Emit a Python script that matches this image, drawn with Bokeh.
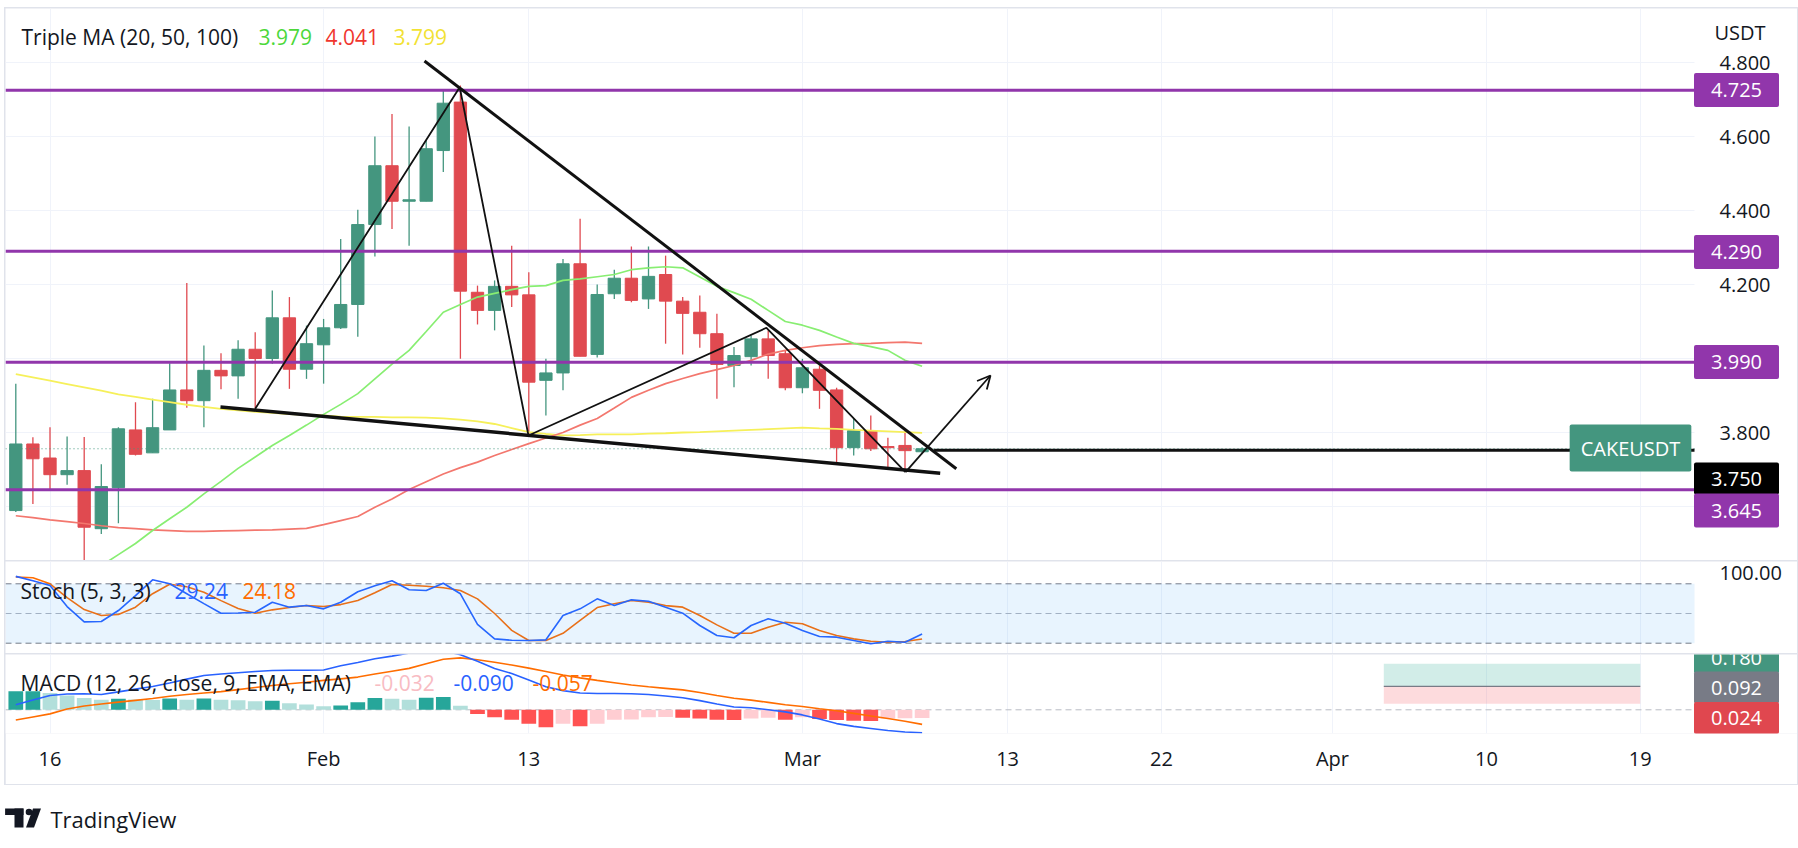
import numpy as np
import pandas as pd
from bokeh.plotting import figure
from bokeh.layouts import column, row
from bokeh.models import (Range1d, FixedTicker, BoxAnnotation, Label, Arrow,
                          OpenHead, ColumnDataSource, Spacer, NumeralTickFormatter)
from bokeh.embed import file_html
from bokeh.resources import INLINE
from bokeh.core.properties import value

NaN = float("nan")

# ---------------- data ----------------
start_date = "2023-01-14"
opens = [3.589, 3.769, 3.731, 3.686, 3.697, 3.540, 3.651, 3.807, 3.745, 3.807,
         3.915, 3.886, 3.968, 3.953, 4.025, 4.000, 4.110, 3.971, 4.037, 4.083,
         4.146, 4.362, 4.521, 4.425, 4.425, 4.562, 4.693, 4.179, 4.130, 4.195,
         4.172, 3.941, 3.961, 4.256, 4.011, 4.175, 4.217, 4.161, 4.227, 4.155,
         4.125, 4.067, 3.981, 4.005, 4.053, 4.013, 3.921, 3.971, 3.915, 3.759,
         3.805, 3.762, 3.765, 3.748]
highs = [3.932, 3.787, 3.814, 3.789, 3.788, 3.714, 3.814, 3.882, 3.891, 3.987,
         4.204, 4.035, 4.014, 4.049, 4.071, 4.184, 4.166, 4.089, 4.107, 4.323,
         4.402, 4.600, 4.661, 4.627, 4.589, 4.724, 4.738, 4.197, 4.211, 4.305,
         4.233, 3.999, 4.269, 4.378, 4.200, 4.240, 4.303, 4.303, 4.278, 4.166,
         4.170, 4.121, 4.031, 4.062, 4.076, 4.021, 3.999, 3.981, 3.921, 3.837,
         3.846, 3.786, 3.804, 3.760]
lows = [3.585, 3.607, 3.643, 3.659, 3.450, 3.526, 3.555, 3.738, 3.745, 3.807,
        3.867, 3.814, 3.917, 3.891, 3.864, 3.986, 3.918, 3.945, 3.932, 4.080,
        4.059, 4.276, 4.350, 4.305, 4.425, 4.504, 3.999, 4.092, 4.076, 4.139,
        3.792, 3.846, 3.914, 4.006, 4.003, 4.161, 4.152, 4.134, 4.040, 4.011,
        4.029, 3.891, 3.922, 3.981, 3.945, 3.914, 3.906, 3.864, 3.717, 3.738,
        3.750, 3.706, 3.693, 3.745]
closes = [3.769, 3.729, 3.686, 3.697, 3.544, 3.654, 3.810, 3.741, 3.813, 3.915,
          3.886, 3.968, 3.953, 4.025, 4.000, 4.110, 3.971, 4.040, 4.083, 4.146,
          4.362, 4.521, 4.425, 4.429, 4.567, 4.690, 4.182, 4.130, 4.195, 4.172,
          3.936, 3.961, 4.256, 4.006, 4.173, 4.217, 4.157, 4.222, 4.155, 4.122,
          4.067, 3.984, 4.008, 4.053, 4.008, 3.921, 3.975, 3.914, 3.759, 3.805,
          3.756, 3.759, 3.751, 3.756]

ma20 = [NaN, NaN, NaN, NaN, NaN, 3.440, 3.470, 3.500, 3.535, 3.567,
        3.598, 3.634, 3.668, 3.703, 3.734, 3.765, 3.792, 3.820, 3.849, 3.876,
        3.905, 3.945, 3.985, 4.022, 4.073, 4.125, 4.146, 4.166, 4.176, 4.186,
        4.195, 4.197, 4.211, 4.215, 4.221, 4.227, 4.240, 4.245, 4.248, 4.245,
        4.220, 4.195, 4.178, 4.160, 4.130, 4.100, 4.090, 4.076, 4.058, 4.041,
        4.032, 4.022, 3.995, 3.979]
ma50 = [3.575, 3.570, 3.564, 3.559, 3.554, 3.548, 3.543, 3.540, 3.537, 3.535,
        3.533, 3.533, 3.534, 3.535, 3.536, 3.537, 3.539, 3.541, 3.551, 3.562,
        3.573, 3.598, 3.620, 3.646, 3.667, 3.688, 3.705, 3.720, 3.738, 3.754,
        3.770, 3.785, 3.800, 3.820, 3.838, 3.866, 3.895, 3.914, 3.932, 3.946,
        3.959, 3.970, 3.981, 3.995, 4.012, 4.022, 4.029, 4.035, 4.038, 4.040,
        4.041, 4.043, 4.044, 4.041]
ma100 = [3.958, 3.949, 3.940, 3.931, 3.922, 3.913, 3.903, 3.896, 3.889, 3.882,
         3.875, 3.869, 3.864, 3.860, 3.856, 3.853, 3.850, 3.848, 3.846, 3.843,
         3.842, 3.842, 3.841, 3.841, 3.840, 3.838, 3.835, 3.830, 3.823, 3.812,
         3.801, 3.796, 3.792, 3.793, 3.795, 3.795, 3.795, 3.797, 3.798, 3.800,
         3.801, 3.803, 3.805, 3.807, 3.809, 3.811, 3.813, 3.811, 3.810, 3.807,
         3.805, 3.803, 3.801, 3.799]

stoch_k = [87.5, 83.0, 78.3, 57.0, 41.5, 41.9, 53.0, 68.0, 84.0, 80.0,
           70.0, 60.0, 50.3, 50.5, 51.3, 61.4, 56.4, 58.1, 54.7, 61.4,
           72.0, 78.0, 83.0, 74.0, 73.2, 80.6, 69.9, 39.0, 24.4, 23.0,
           22.7, 23.4, 48.0, 54.7, 64.8, 58.1, 63.8, 62.4, 56.4, 50.3,
           37.9, 27.8, 25.5, 37.9, 44.6, 40.2, 32.8, 26.8, 26.1, 22.7,
           19.4, 22.0, 21.0, 29.24]
stoch_d = [86.8, 86.1, 80.0, 66.0, 54.0, 48.0, 49.0, 56.4, 70.0, 79.5,
           77.0, 71.5, 63.0, 55.0, 50.3, 53.7, 56.0, 58.1, 57.0, 59.0,
           63.1, 71.0, 79.3, 78.5, 77.5, 76.0, 73.2, 64.8, 50.0, 33.0,
           22.7, 22.7, 30.0, 43.0, 56.0, 59.8, 63.1, 61.5, 58.0, 56.4,
           48.0, 38.5, 30.1, 30.1, 36.2, 41.2, 39.6, 32.8, 27.8, 24.4,
           22.0, 21.0, 21.7, 24.18]

macd_line = [0.020, 0.038, 0.056, 0.062, 0.063, 0.060, 0.070, 0.081, 0.091, 0.105,
             0.120, 0.134, 0.140, 0.145, 0.150, 0.154, 0.155, 0.155, 0.156, 0.172,
             0.185, 0.200, 0.210, 0.222, 0.230, 0.232, 0.215, 0.190, 0.162, 0.142,
             0.117, 0.090, 0.075, 0.066, 0.064, 0.064, 0.063, 0.060, 0.054, 0.047,
             0.036, 0.023, 0.011, 0.008, 0.000, -0.008, -0.020, -0.036, -0.054, -0.065,
             -0.073, -0.081, -0.087, -0.090]
macd_signal = [-0.040, -0.028, -0.016, 0.003, 0.015, 0.023, 0.030, 0.037, 0.044, 0.053,
               0.060, 0.066, 0.071, 0.079, 0.087, 0.095, 0.102, 0.108, 0.115, 0.121,
               0.128, 0.140, 0.151, 0.162, 0.180, 0.198, 0.203, 0.196, 0.186, 0.175,
               0.163, 0.150, 0.136, 0.125, 0.115, 0.106, 0.097, 0.090, 0.084, 0.078,
               0.068, 0.056, 0.045, 0.038, 0.029, 0.020, 0.013, 0.004, -0.004, -0.014,
               -0.024, -0.034, -0.045, -0.057]
macd_hist = [0.073, 0.073, 0.066, 0.056, 0.046, 0.039, 0.043, 0.040, 0.038, 0.044,
             0.039, 0.044, 0.039, 0.037, 0.033, 0.035, 0.026, 0.021, 0.014, 0.017,
             0.030, 0.046, 0.043, 0.039, 0.047, 0.050, 0.016, -0.016, -0.029, -0.039,
             -0.055, -0.068, -0.055, -0.064, -0.055, -0.039, -0.038, -0.029, -0.028, -0.031,
             -0.034, -0.039, -0.040, -0.034, -0.031, -0.039, -0.029, -0.036, -0.040, -0.043,
             -0.044, -0.034, -0.033, -0.032]

levels = [4.725, 4.290, 3.990, 3.645]
price_grid = [3.6, 3.8, 4.0, 4.2, 4.4, 4.6, 4.8]
price_ticks = [3.8, 4.2, 4.4, 4.6, 4.8]
stoch_bands = [80, 50, 20]
tick_dates = ["2023-01-16", "2023-02-01", "2023-02-13", "2023-03-01", "2023-03-13",
              "2023-03-22", "2023-04-01", "2023-04-10", "2023-04-19"]
tick_labels = ["16", "Feb", "13", "Mar", "13", "22", "Apr", "10", "19"]

# chart drawings (bar index, price)
wedge_upper_x = [23.9, 55.0]
wedge_upper_y = [4.804, 3.702]
wedge_lower_x = [11.97, 54.06]
wedge_lower_y = [3.869, 3.690]
zigzag_x = [14.0, 25.96, 29.98, 43.9, 52.03]
zigzag_y = [3.864, 4.733, 3.792, 4.083, 3.693]
arrow_to = (57.0, 3.954)
ray_start = (53.7, 3.752)
ray_label = 3.750
pos_dates = ["2023-04-04", "2023-04-19"]
pos_target, pos_entry, pos_stop = 0.180, 0.092, 0.024

# ---------------- helpers ----------------
FONT = "Open Sans"
TXT = "#131722"
UP = "#44967f"
DOWN = "#e04a50"
PURPLE = "#9136ab"
GRID = "#f0f3fa"
DRAW = "#111111"

t0 = pd.Timestamp(start_date)
dates = pd.date_range(start_date, periods=len(opens), freq="D")
x = np.array([(d - t0).days for d in dates], dtype=float)
tick_x = [(pd.Timestamp(d) - t0).days for d in tick_dates]
pos_x = [(pd.Timestamp(d) - t0).days for d in pos_dates]

X0, DX = 15.3, 17.1          # page px of bar 0, px per bar


def xi(px):
    return (px - X0) / DX


def yp(py):
    return 4.8 - (py - 62) / 370.0


def ys(py):
    return 20 + (642.7 - py) / 0.99


def ym(py):
    return (709.3 - py) / 255.6


XL, XR = xi(5), xi(1694)     # plotting area (left of the price scale)
x_range = Range1d(xi(5), xi(1797))


def make_fig(height, y_range, xaxis=None, yaxis="right", bottom=0):
    p = figure(width=1792, height=height, x_range=x_range, y_range=y_range,
               x_axis_location=xaxis, y_axis_location=yaxis,
               output_backend="svg", toolbar_location=None,
               min_border_left=0, min_border_right=0, min_border_top=0,
               min_border_bottom=bottom, outline_line_color=None,
               background_fill_color="white", border_fill_color="white")
    p.xgrid.ticker = FixedTicker(ticks=tick_x)
    p.xgrid.grid_line_color = GRID
    p.ygrid.grid_line_color = None
    return p


def hlines(p, ys_, **kw):
    n = len(ys_)
    p.segment(x0=[XL] * n, x1=[XR] * n, y0=list(ys_), y1=list(ys_), **kw)


def txt(p, xv, yv, text, color, size="21px", align="left"):
    p.add_layout(Label(x=xv, y=yv, text=text, text_color=color, text_font=FONT,
                       text_font_size=size, text_baseline="middle", text_align=align))


def tag(p, xv, yv, text, bg, ph=17, pv=10):
    p.add_layout(Label(x=xv, y=yv, text=text, text_color="white", text_font=FONT,
                       text_font_size="20px", text_baseline="middle", text_align="center",
                       background_fill_color=bg, border_radius=2,
                       padding=dict(left=ph, right=ph, top=pv, bottom=pv)))


def style_yaxis(p):
    ax = p.yaxis[0]
    ax.axis_line_color = None
    ax.major_tick_line_color = None
    ax.minor_tick_line_color = None
    ax.major_label_text_font = FONT
    ax.major_label_text_font_size = "20px"
    ax.major_label_text_color = TXT
    ax.major_label_standoff = -84     # labels sit inside the price-scale strip


# ---------------- price pane ----------------
pP = make_fig(552, Range1d(yp(560), yp(8)))
style_yaxis(pP)
pP.yaxis.ticker = FixedTicker(ticks=price_ticks)
pP.yaxis.formatter = NumeralTickFormatter(format="0.000")
hlines(pP, price_grid, line_color=GRID, line_width=1, level="underlay")

o = np.array(opens); c = np.array(closes)
src = ColumnDataSource(dict(x=x, h=highs, l=lows, top=np.maximum(o, c), bottom=np.minimum(o, c),
                            color=[UP if cc >= oo else DOWN for oo, cc in zip(o, c)]))
pP.segment(x0="x", y0="h", x1="x", y1="l", line_color="color", line_width=1.3, source=src)
pP.vbar(x="x", width=0.72, top="top", bottom="bottom", fill_color="color",
        line_color="color", line_width=1, source=src)

pP.line(x, ma100, line_color="#f6f05a", line_width=1.8)
pP.line(x, ma50, line_color="#f3776e", line_width=1.7)
pP.line(x, ma20, line_color="#88ee72", line_width=1.7)

hlines(pP, [closes[-1]], line_color=UP, line_dash="1 3", line_width=1)
hlines(pP, levels, line_color=PURPLE, line_width=3)

pP.line(wedge_upper_x, wedge_upper_y, line_color=DRAW, line_width=3)
pP.line(wedge_lower_x, wedge_lower_y, line_color=DRAW, line_width=3.5)
pP.line(zigzag_x, zigzag_y, line_color=DRAW, line_width=1.8)
pP.add_layout(Arrow(end=OpenHead(size=13, line_width=1.8, line_color=DRAW),
                    x_start=zigzag_x[-1], y_start=zigzag_y[-1],
                    x_end=arrow_to[0], y_end=arrow_to[1],
                    line_color=DRAW, line_width=1.8))
pP.segment(x0=[ray_start[0]], y0=[ray_start[1]], x1=[XR], y1=[ray_start[1]],
           line_color=DRAW, line_width=3)

txt(pP, xi(21), yp(36), "Triple MA (20, 50, 100)", TXT)
txt(pP, xi(258), yp(36), f"{ma20[-1]:.3f}", "#4cd83a")
txt(pP, xi(325), yp(36), f"{ma50[-1]:.3f}", "#f0362e")
txt(pP, xi(393), yp(36), f"{ma100[-1]:.3f}", "#f2e233")
txt(pP, xi(1714), yp(32), "USDT", TXT, size="20px")

tag(pP, xi(1630), yp(447.5), "CAKEUSDT", UP, ph=11, pv=10)
tag(pP, xi(1736), yp(89.5), f"{levels[0]:.3f}", PURPLE)
tag(pP, xi(1736), yp(251.5), f"{levels[1]:.3f}", PURPLE)
tag(pP, xi(1736), yp(361.5), f"{levels[2]:.3f}", PURPLE)
tag(pP, xi(1736), yp(478), f"{ray_label:.3f}", "#000000", pv=9)
tag(pP, xi(1736), yp(510), f"{levels[3]:.3f}", PURPLE)

# ---------------- stochastic pane ----------------
pS = make_fig(92, Range1d(ys(653), ys(561)))
style_yaxis(pS)
pS.yaxis.ticker = FixedTicker(ticks=[100])
pS.yaxis.formatter = NumeralTickFormatter(format="0.00")
pS.add_layout(BoxAnnotation(left=XL, right=XR, bottom=stoch_bands[2], top=stoch_bands[0],
                            fill_color="#2196f3", fill_alpha=0.1, line_alpha=0))
hlines(pS, [stoch_bands[0], stoch_bands[2]], line_color="#787b86", line_dash="6 4", line_width=1)
hlines(pS, [stoch_bands[1]], line_color="#b2b5be", line_dash="6 4", line_width=1)
pS.line(x, stoch_d, line_color="#ff6d00", line_width=1.6)
pS.line(x, stoch_k, line_color="#2962ff", line_width=1.6)
txt(pS, xi(20), ys(590), "Stoch (5, 3, 3)", TXT)
txt(pS, xi(174), ys(590), f"{stoch_k[-1]:.2f}", "#2962ff")
txt(pS, xi(242), ys(590), f"{stoch_d[-1]:.2f}", "#ff6d00")

# ---------------- MACD pane ----------------
pM = make_fig(130, Range1d(ym(733), ym(654)), xaxis="below", yaxis=None, bottom=51)
xa = pM.xaxis[0]
xa.ticker = FixedTicker(ticks=tick_x)
xa.major_label_overrides = {t: lab for t, lab in zip(tick_x, tick_labels)}
xa.axis_line_color = None
xa.major_tick_line_color = None
xa.minor_tick_line_color = None
xa.major_label_text_font = FONT
xa.major_label_text_font_size = "20px"
xa.major_label_text_color = TXT
xa.major_label_standoff = 5

hlines(pM, [0], line_color="#b8bbc4", line_dash="6 4", line_width=1)
hist_colors = []
for k, hv in enumerate(macd_hist):
    prev = macd_hist[k - 1] if k > 0 else hv
    if hv >= 0:
        hist_colors.append("#26a69a" if hv >= prev else "#b2dfdb")
    else:
        hist_colors.append("#ff5252" if hv <= prev else "#ffcdd2")
pM.vbar(x=x, width=0.86, top=macd_hist, bottom=0, fill_color=hist_colors, line_color=None)
pM.line(x, macd_signal, line_color="#ff6d00", line_width=1.6)
pM.line(x, macd_line, line_color="#2962ff", line_width=1.6)

pM.quad(left=[pos_x[0]], right=[pos_x[1]], bottom=[pos_entry], top=[pos_target],
        fill_color="#089981", fill_alpha=0.18, line_color=None)
pM.quad(left=[pos_x[0]], right=[pos_x[1]], bottom=[pos_stop], top=[pos_entry],
        fill_color="#f23645", fill_alpha=0.18, line_color=None)
pM.segment(x0=[pos_x[0]], y0=[pos_entry], x1=[pos_x[1]], y1=[pos_entry],
           line_color="#787b86", line_width=1.2)

txt(pM, xi(20), ym(682), "MACD (12, 26, close, 9, EMA, EMA)", TXT)
txt(pM, xi(374), ym(682), f"{macd_hist[-1]:.3f}", "#f8bcc3")
txt(pM, xi(453), ym(682), f"{macd_line[-1]:.3f}", "#2962ff")
txt(pM, xi(532), ym(682), f"{macd_signal[-1]:.3f}", "#ff6d00")

tag(pM, xi(1736), ym(657), f"{pos_target:.3f}", "#44967f", pv=9)
tag(pM, xi(1736), ym(687), f"{pos_entry:.3f}", "#787b86", pv=9)
tag(pM, xi(1736), ym(717.5), f"{pos_stop:.3f}", "#e0474f", pv=9)

# ---------------- logo ----------------
logo = figure(width=300, height=63, x_range=Range1d(0, 300), y_range=Range1d(63, 0),
              x_axis_location=None, y_axis_location=None, output_backend="svg",
              toolbar_location=None, min_border=0, outline_line_color=None)
logo.grid.visible = False
logo.quad(left=[4.6, 14], right=[23, 23], top=[23, 23], bottom=[29.5, 42],
          fill_color=TXT, line_color=None)
logo.circle(x=[28.5], y=[26.5], radius=3.3, fill_color=TXT, line_color=None)
logo.patch(x=[25.5, 33.5, 40.5, 32.5], y=[42, 42, 23, 23], fill_color=TXT, line_color=None)
logo.text(x=[50], y=[33], text=["TradingView"], text_font=value(FONT),
          text_font_size="22px", text_baseline="middle", text_color=TXT)

# ---------------- layout ----------------
inner = column(pP, pS, pM, spacing=1)
frame = column(Spacer(height=1), row(Spacer(width=1), inner, Spacer(width=1)), Spacer(height=1),
               styles={"background-color": "#e0e3eb"})
root = column(Spacer(height=7), row(Spacer(width=4), frame), logo)

open("out.html", "w").write(file_html(root, INLINE))
